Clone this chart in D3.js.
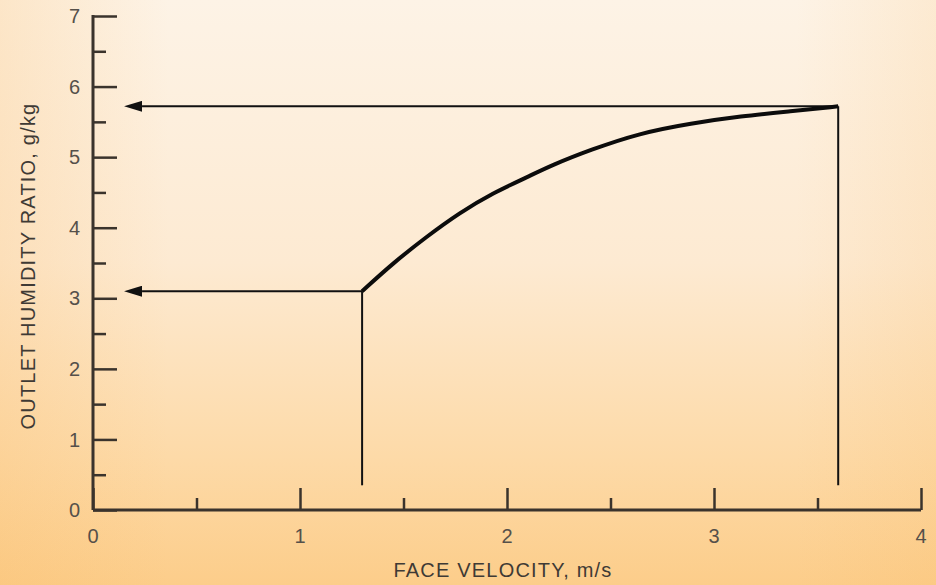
<!DOCTYPE html>
<html>
<head>
<meta charset="utf-8">
<script src="https://cdn.jsdelivr.net/npm/d3@7"></script>
<style>
  html, body { margin: 0; padding: 0; background: #fde6c4; }
  svg { display: block; }
  text { font-family: "Liberation Sans", Arial, sans-serif; }
</style>
</head>
<body>
<svg id="chart" width="936" height="585"></svg>
<script>
// Face velocity (m/s) vs outlet humidity ratio (g/kg)
const velocity = [1.3, 1.45, 1.61, 1.77, 1.93, 2.1, 2.22, 2.4, 2.64, 2.89, 3.13, 3.37, 3.6];
const humidity = [3.1, 3.5, 3.87, 4.21, 4.49, 4.72, 4.89, 5.1, 5.34, 5.48, 5.58, 5.65, 5.72];

// Reading guides: drop from the curve ends to the x axis, arrows to the y axis
const guideVelocity = [1.3, 3.6];
const guideHumidity = [3.1, 5.72];
const guideBottom = 0.35;
const arrowTip = 0.15;

const xTicks = [0, 1, 2, 3, 4];
const xMinorTicks = [0.5, 1.5, 2.5, 3.5];
const yTicks = [0, 1, 2, 3, 4, 5, 6, 7];
const yMinorTicks = [0.5, 1.5, 2.5, 3.5, 4.5, 5.5, 6.5];

const xTitle = "FACE VELOCITY, m/s";
const yTitle = "OUTLET HUMIDITY RATIO, g/kg";

const svg = d3.select("#chart");
const W = 936, H = 585;
const plotLeft = 93, plotRight = 921, plotTop = 16, plotBottom = 510;

// background wash: cream at the top fading to orange toward the bottom
const defs = svg.append("defs");
const bg = defs.append("linearGradient").attr("id", "bg")
  .attr("x1", 0).attr("y1", 0).attr("x2", 0).attr("y2", 1);
bg.append("stop").attr("offset", "0%").attr("stop-color", "#fdf3e6");
bg.append("stop").attr("offset", "45%").attr("stop-color", "#fdead2");
bg.append("stop").attr("offset", "78%").attr("stop-color", "#fddaa8");
bg.append("stop").attr("offset", "100%").attr("stop-color", "#fccd8a");
svg.append("rect").attr("width", W).attr("height", H).attr("fill", "url(#bg)");
// slightly warmer towards the side edges
const edge = defs.append("linearGradient").attr("id", "edge")
  .attr("x1", 0).attr("y1", 0).attr("x2", 1).attr("y2", 0);
edge.append("stop").attr("offset", "0%").attr("stop-color", "#f9b860").attr("stop-opacity", 0.22);
edge.append("stop").attr("offset", "18%").attr("stop-color", "#f9b860").attr("stop-opacity", 0);
edge.append("stop").attr("offset", "85%").attr("stop-color", "#f9b860").attr("stop-opacity", 0);
edge.append("stop").attr("offset", "100%").attr("stop-color", "#f9b860").attr("stop-opacity", 0.15);
svg.append("rect").attr("width", W).attr("height", H).attr("fill", "url(#edge)");

defs.append("marker").attr("id", "arrow")
  .attr("viewBox", "0 0 18 11").attr("refX", 0).attr("refY", 5.5)
  .attr("markerWidth", 18).attr("markerHeight", 11)
  .attr("markerUnits", "userSpaceOnUse").attr("orient", "auto")
  .append("path").attr("d", "M18,5.5 L0,0 L0,11 Z").attr("fill", "#111");

const x = d3.scaleLinear().domain([0, 4]).range([plotLeft, plotRight]);
const y = d3.scaleLinear().domain([0, 7]).range([plotBottom, plotTop]);

const axisColor = "#3a332c";
const labelColor = "#55504a";

// x axis: ticks point upward into the plot
const xAxisMajor = d3.axisTop(x).tickValues(xTicks).tickSize(22).tickFormat("");
const xAxisMinor = d3.axisTop(x).tickValues(xMinorTicks).tickSize(12).tickFormat("");
[xAxisMajor, xAxisMinor].forEach(ax => {
  const g = svg.append("g").attr("transform", `translate(0,${plotBottom})`).call(ax);
  g.select(".domain").remove();
  g.selectAll(".tick line").attr("stroke", axisColor).attr("stroke-width", 2.5);
});
svg.append("line").attr("x1", plotLeft).attr("x2", plotRight).attr("y1", plotBottom).attr("y2", plotBottom)
  .attr("stroke", axisColor).attr("stroke-width", 3);
svg.append("g").selectAll("text").data(xTicks).join("text")
  .attr("x", d => x(d)).attr("y", 543)
  .attr("text-anchor", "middle").attr("font-size", 20).attr("fill", labelColor)
  .text(d => d);

// y axis: ticks point right into the plot
const yAxisMajor = d3.axisRight(y).tickValues(yTicks).tickSize(24).tickFormat("");
const yAxisMinor = d3.axisRight(y).tickValues(yMinorTicks).tickSize(13).tickFormat("");
[yAxisMajor, yAxisMinor].forEach(ax => {
  const g = svg.append("g").attr("transform", `translate(${plotLeft},0)`).call(ax);
  g.select(".domain").remove();
  g.selectAll(".tick line").attr("stroke", axisColor).attr("stroke-width", 2.5);
});
svg.append("line").attr("x1", plotLeft).attr("x2", plotLeft).attr("y1", plotTop - 1).attr("y2", plotBottom)
  .attr("stroke", axisColor).attr("stroke-width", 3);
svg.append("g").selectAll("text").data(yTicks).join("text")
  .attr("x", 80).attr("y", d => y(d)).attr("dy", "0.36em")
  .attr("text-anchor", "end").attr("font-size", 20).attr("fill", labelColor)
  .text(d => d);

// axis titles
svg.append("text").attr("x", 503).attr("y", 577)
  .attr("text-anchor", "middle").attr("font-size", 20).attr("letter-spacing", 1.2)
  .attr("fill", "#3f3a35").text(xTitle);
svg.append("text")
  .attr("transform", `translate(35,266) rotate(-90)`)
  .attr("text-anchor", "middle").attr("font-size", 20).attr("letter-spacing", 1.2)
  .attr("fill", "#3f3a35").text(yTitle);

// guide lines
const guides = svg.append("g").attr("stroke", "#111").attr("stroke-width", 2).attr("fill", "none");
guideVelocity.forEach((v, i) => {
  guides.append("line")
    .attr("x1", x(v)).attr("x2", x(v))
    .attr("y1", y(guideHumidity[i])).attr("y2", y(guideBottom));
  guides.append("line")
    .attr("x1", x(v)).attr("x2", x(arrowTip) + 18)
    .attr("y1", y(guideHumidity[i])).attr("y2", y(guideHumidity[i]))
    .attr("marker-end", "url(#arrow)");
});

// performance curve
const line = d3.line().x(d => x(d[0])).y(d => y(d[1])).curve(d3.curveBasis);
svg.append("path")
  .datum(velocity.map((v, i) => [v, humidity[i]]))
  .attr("d", line)
  .attr("fill", "none").attr("stroke", "#0c0c0c").attr("stroke-width", 4)
  .attr("stroke-linejoin", "round");
</script>
</body>
</html>
